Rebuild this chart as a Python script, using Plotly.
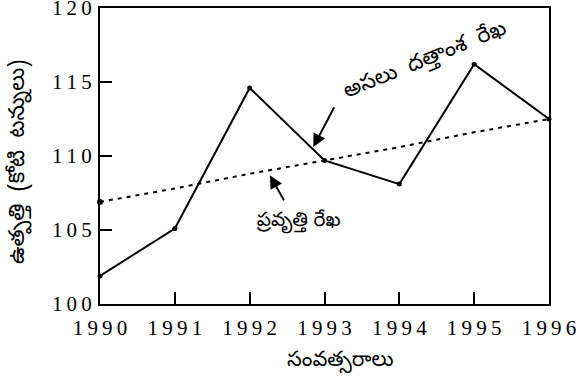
import plotly.graph_objects as go

years = [1990, 1991, 1992, 1993, 1994, 1995, 1996]
actual = [101.9, 105.1, 114.6, 109.7, 108.1, 116.2, 112.5]
trend = [106.9, 107.8, 108.8, 109.7, 110.6, 111.6, 112.5]
y_ticks = [100, 105, 110, 115, 120]

x_title = "సంవత్సరాలు"
y_title = "ఉత్పత్తి  (కోటి  టన్నులు)"
actual_label = "అసలు  దత్తాంశ  రేఖ"
trend_label = "ప్రవృత్తి రేఖ"

def spaced(v):
    return "\u2009".join(str(v))

SERIF = "Liberation Serif, Times New Roman, serif"
TEL = "Noto Sans Telugu, Noto Sans, sans-serif"

L, R, T, B = 100, 27, 8, 81
PW, PH = 576 - L - R, 385 - T - B

def px(xp):
    return (xp - L) / PW

def py(yp):
    return (385 - B - yp) / PH

fig = go.Figure()
fig.add_trace(go.Scatter(
    x=years, y=trend, mode="lines",
    line=dict(color="black", width=2, dash="4px,5px"),
    showlegend=False, hoverinfo="skip", cliponaxis=False))
fig.add_trace(go.Scatter(
    x=years[:1], y=trend[:1], mode="markers",
    marker=dict(color="black", size=6),
    showlegend=False, hoverinfo="skip", cliponaxis=False))
fig.add_trace(go.Scatter(
    x=years, y=actual, mode="lines+markers",
    line=dict(color="black", width=2),
    marker=dict(color="black", size=5),
    showlegend=False, hoverinfo="skip", cliponaxis=False))

fig.add_annotation(x=1992.85, y=110.6, ax=1993.14, ay=113.4,
                   xref="x", yref="y", axref="x", ayref="y",
                   text="", showarrow=True, arrowhead=2, arrowsize=1.3, arrowwidth=2,
                   arrowcolor="black", standoff=0)
fig.add_annotation(x=1992.27, y=108.7, ax=1992.47, ay=106.9,
                   xref="x", yref="y", axref="x", ayref="y",
                   text="", showarrow=True, arrowhead=2, arrowsize=1.3, arrowwidth=2,
                   arrowcolor="black", standoff=0)
common = dict(xref="paper", yref="paper", showarrow=False, xanchor="center", yanchor="middle")
fig.add_annotation(x=px(425), y=py(62), text=actual_label, textangle=-22,
                   font=dict(family=TEL, size=22, color="black"), **common)
fig.add_annotation(x=px(298), y=py(222), text=trend_label,
                   font=dict(family=TEL, size=20, color="black"), **common)
fig.add_annotation(x=px(340), y=py(362), text=x_title,
                   font=dict(family=TEL, size=21, color="black"), **common)
fig.add_annotation(x=px(20), y=py(162), text=y_title, textangle=-90,
                   font=dict(family=TEL, size=22, color="black"), **common)

axis_style = dict(ticks="inside", ticklen=12, tickwidth=2, tickcolor="black",
                  showline=True, linewidth=2, linecolor="black", mirror=True,
                  showgrid=False, zeroline=False, automargin=False,
                  ticklabeloverflow="allow",
                  tickfont=dict(family=SERIF, size=21, color="black"))
fig.update_xaxes(range=[1990, 1996], tickvals=years, ticktext=[spaced(y) for y in years],
                 ticklabelstandoff=4, **axis_style)
fig.update_yaxes(range=[100, 120], tickvals=y_ticks, ticktext=[spaced(v) for v in y_ticks],
                 ticklabelstandoff=2, **axis_style)
fig.update_layout(width=576, height=385, margin=dict(l=L, r=R, t=T, b=B),
                  plot_bgcolor="white", paper_bgcolor="white")
fig.write_html("out.html", config={"displayModeBar": False},
               post_script="document.body.style.margin='0';")
